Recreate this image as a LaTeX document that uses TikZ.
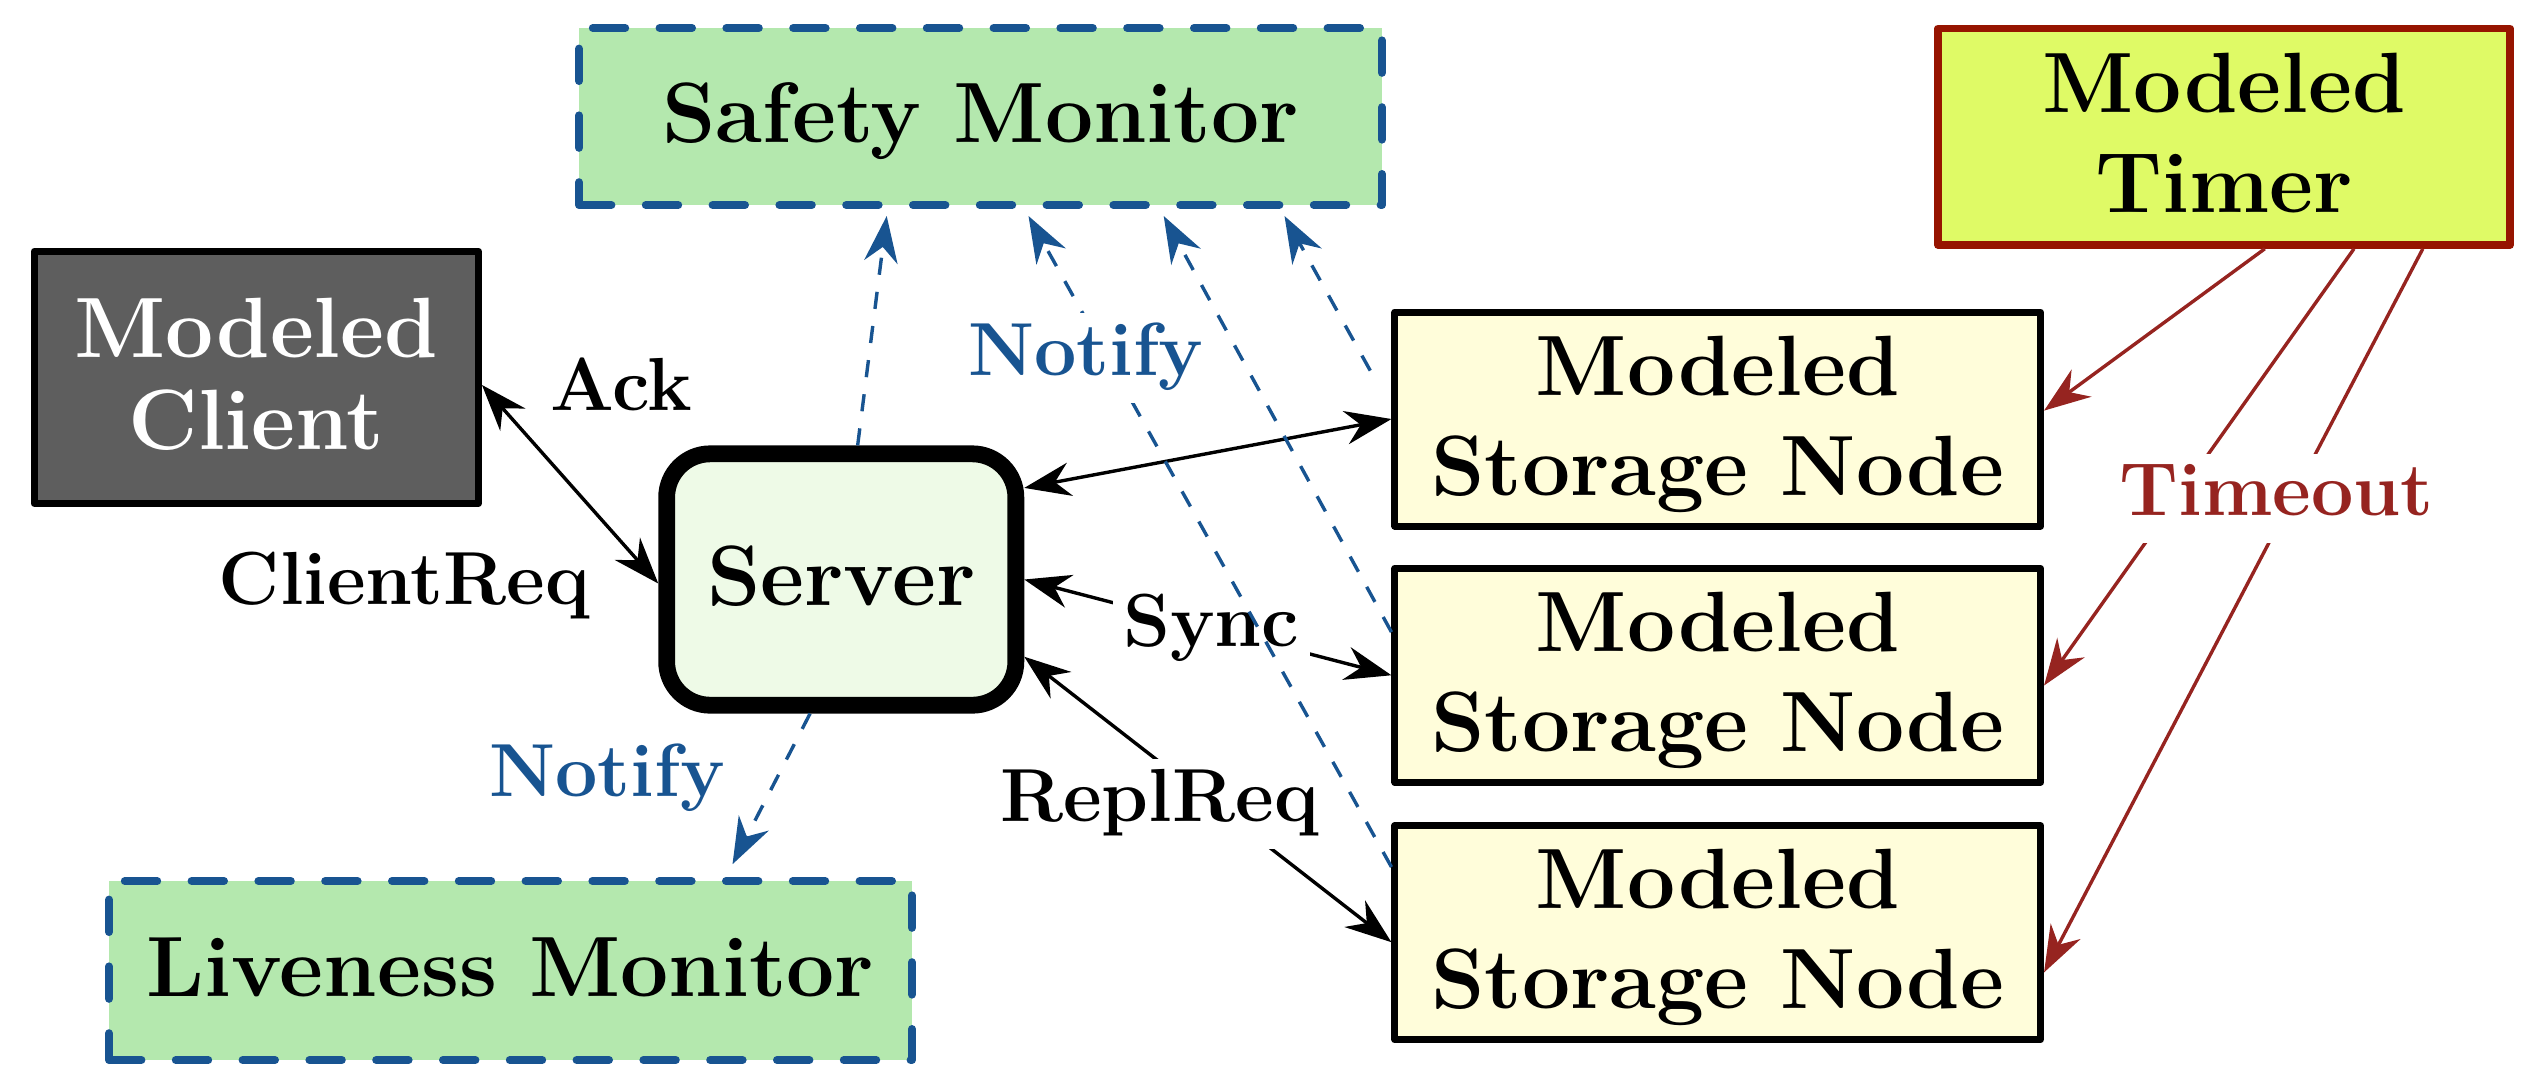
\documentclass[tikz,border=0pt]{standalone}
\usetikzlibrary{arrows.meta,calc}
\definecolor{smfill}{RGB}{180,232,174}
\definecolor{mblue}{RGB}{24,84,145}
\definecolor{clientfill}{RGB}{94,94,94}
\definecolor{serverfill}{RGB}{238,250,231}
\definecolor{snfill}{RGB}{255,253,218}
\definecolor{timerfill}{RGB}{223,250,102}
\definecolor{timerborder}{RGB}{150,20,0}
\definecolor{tred}{RGB}{150,36,32}
\newcommand\myhstrut{\rule{0pt}{17.6pt}}
\newcommand\mydstrut{\rule[-4.5pt]{0pt}{4.5pt}}
\begin{document}
\begin{tikzpicture}[x=0.25pt,y=-0.25pt,
  >={Stealth[length=11.6pt,width=8.4pt,inset=3.8pt]},
  nbox/.style={rectangle, align=center, inner sep=2pt, font=\fontsize{21.4}{25}\selectfont\bfseries, line join=round},
  onel/.style={text height=17.6pt, text depth=4.5pt},
  monitor/.style={nbox, onel, draw=mblue, fill=smfill, line width=2pt,
    dash pattern=on 8.1pt off 8.6pt, line cap=round, minimum width=200.75pt},
  snbox/.style={nbox, draw=black, fill=snfill, line width=1.75pt,
    minimum width=161.4pt, minimum height=53.5pt},
  conn/.style={line width=0.85pt, <->},
  lab/.style={font=\fontsize{18.8}{22}\selectfont\bfseries, inner sep=2.5pt,
    text height=13pt, text depth=4.4pt},
  notif/.style={line width=0.85pt, color=mblue, dash pattern=on 4.3pt off 4.3pt, ->},
  tline/.style={line width=0.85pt, color=tred, ->}
]
\useasboundingbox (0,0) rectangle (2539,1086);

% nodes
\node[monitor, minimum height=44.25pt] (safety) at (980.5,116.5) {Safety Monitor};
\node[monitor, minimum height=44.75pt] (live) at (510.5,970.5) {Liveness Monitor};
\node[nbox, draw=black, fill=clientfill, text=white, line width=1.75pt,
      minimum width=111.1pt, minimum height=63pt] (client) at (256.25,377.35)
      {\myhstrut Modeled\\[-2pt] Client\mydstrut};
\node[nbox, onel, draw=black, fill=serverfill, line width=4.2pt, rounded corners=10.9pt,
      minimum width=87.3pt, minimum height=62.85pt] (server) at (841.25,579.5) {Server};
\node[snbox] (sn1) at (1717.75,419) {\myhstrut Modeled\\ Storage Node\mydstrut};
\node[snbox] (sn2) at (1717.75,675.25) {\myhstrut Modeled\\ Storage Node\mydstrut};
\node[snbox] (sn3) at (1717.75,932.6) {\myhstrut Modeled\\ Storage Node\mydstrut};
\node[nbox, draw=timerborder, fill=timerfill, line width=1.9pt,
      minimum width=143pt, minimum height=54.1pt] (timer) at (2224,136.75)
      {\myhstrut Modeled\\ Timer\mydstrut};

% client <-> server
\draw[conn] ([yshift=-1.9pt]client.east) -- ([yshift=-1pt]server.west)
  node[lab, midway, xshift=12.9pt, yshift=22.8pt] (ack) {Ack}
  node[lab, midway, xshift=-41.45pt, yshift=-25.7pt] (creq) {ClientReq};

% server <-> storage nodes
\draw[conn] ([yshift=22.9pt]server.east) -- (sn1.west);
\draw[conn] (server.east) -- (sn2.west)
  node[lab, fill=white, midway, xshift=0.9pt, yshift=-0.6pt] (sync) {Sync};
\draw[conn] ([yshift=-19.3pt]server.east) -- ([yshift=-2.4pt]sn3.west)
  node[lab, fill=white, midway, xshift=-12.1pt, yshift=-1.1pt] (repl) {ReplReq};

% notifications to safety monitor
\draw[notif] ([xshift=4.1pt]server.north) -- ([xshift=-23.45pt,yshift=-1.75pt]safety.south);
\draw[notif] ([yshift=16.4pt]sn3.west) -- ([xshift=12.0pt,yshift=-1.75pt]safety.south)
  node[lab, fill=white, text=mblue, pos=0.782, xshift=-5.45pt] (notify1) {Notify};
\draw[notif] ([yshift=10.8pt]sn2.west) -- ([xshift=45.8pt,yshift=-1.75pt]safety.south);
\draw[notif] ([xshift=-5.3pt,yshift=12.1pt]sn1.west) -- ([xshift=76.0pt,yshift=-1.75pt]safety.south);

% notification to liveness monitor
\draw[notif] ([xshift=-7.8pt]server.south) -- ([xshift=55.5pt,yshift=3.2pt]live.north)
  node[lab, text=mblue, pos=0.438, xshift=-42.25pt] (notify2) {Notify};

% timer
\draw[tline] ([xshift=10.2pt]timer.south) -- ([yshift=2.1pt]sn1.east);
\draw[tline] ([xshift=32.5pt]timer.south) -- ([yshift=-2.56pt]sn2.east);
\draw[tline] ([xshift=49.7pt]timer.south) -- ([yshift=-9.95pt]sn3.east)
  node[lab, fill=white, text=tred, pos=0.345, xshift=-3.85pt] (timeout) {Timeout};
\end{tikzpicture}
\end{document}
